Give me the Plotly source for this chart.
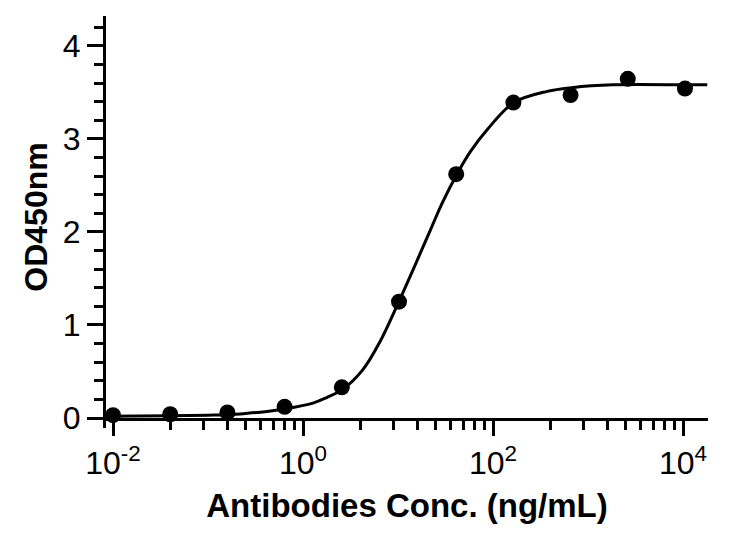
import plotly.graph_objects as go

# Measured data points (concentration in ng/mL, OD450)
conc = [0.01, 0.04, 0.16, 0.64, 2.56, 10.24, 40.96, 163.84, 655.36, 2621.44, 10485.76]
od450 = [0.03, 0.04, 0.06, 0.12, 0.33, 1.25, 2.62, 3.39, 3.47, 3.645, 3.54]

# Fitted curve
curve_x = [0.0084, 0.041, 0.1, 0.163, 0.26, 0.4, 0.64, 1.27, 1.78, 2.63, 4.27, 6.46,
           10.2, 14.5, 21.9, 29.5, 41.7, 57.5, 87.1, 166, 372, 676, 1820, 10965, 18000]
curve_y = [0.02, 0.025, 0.03, 0.035, 0.05, 0.068, 0.097, 0.16, 0.22, 0.31, 0.52, 0.82,
           1.25, 1.60, 2.02, 2.32, 2.62, 2.86, 3.10, 3.39, 3.51, 3.55, 3.58, 3.58, 3.58]

x_major = [0.01, 1, 100, 10000]
x_major_text = ["10<sup>-2</sup>", "10<sup>0</sup>", "10<sup>2</sup>", "10<sup>4</sup>"]
x_minor = [b * m for b in [0.01, 1, 100] for m in [4, 9, 16, 25, 36, 49, 64, 81]]
y_major = [0, 1, 2, 3, 4]

font_name = "Liberation Sans"

fig = go.Figure()
fig.add_trace(go.Scatter(
    x=curve_x, y=curve_y, mode="lines", line=dict(color="black", width=3, shape="spline", smoothing=1.0),
    hoverinfo="skip", showlegend=False, cliponaxis=True))
fig.add_trace(go.Scatter(
    x=conc, y=od450, mode="markers", marker=dict(color="black", size=16),
    showlegend=False, cliponaxis=False))

fig.update_layout(
    width=725, height=536,
    margin=dict(l=98, r=25, t=8, b=126),
    plot_bgcolor="white", paper_bgcolor="white",
    font=dict(family=font_name, color="black", size=32),
    xaxis=dict(
        type="log", range=[-2.074, 4.263], automargin=False,
        showline=True, linewidth=3, linecolor="black",
        showgrid=False, zeroline=False,
        ticks="outside", ticklen=15, tickwidth=3, tickcolor="black",
        tickmode="array", tickvals=x_major, ticktext=x_major_text,
        tickfont=dict(family=font_name, size=32, color="black"),
        minor=dict(tickmode="array", tickvals=x_minor, ticks="outside", ticklen=9,
                   tickwidth=3, tickcolor="black", showgrid=False),
        title=dict(text="<b>Antibodies Conc. (ng/mL)</b>", standoff=14,
                   font=dict(family=font_name, size=33, color="black")),
    ),
    yaxis=dict(
        range=[0, 4.32], automargin=False,
        showline=True, linewidth=3, linecolor="black",
        showgrid=False, zeroline=False,
        ticks="outside", ticklen=16, tickwidth=3, tickcolor="black",
        tickmode="array", tickvals=y_major,
        tickfont=dict(family=font_name, size=32, color="black"),
        minor=dict(dtick=0.2, tick0=0, ticks="outside", ticklen=9,
                   tickwidth=3, tickcolor="black", showgrid=False),
        title=dict(text="<b>OD450nm</b>", standoff=6,
                   font=dict(family=font_name, size=32, color="black")),
    ),
    shapes=[dict(type="line", xref="paper", yref="paper",
                 xsizemode="pixel", ysizemode="pixel", xanchor=0, yanchor=0,
                 x0=-1.5, x1=-1.5, y0=0, y1=-10,
                 line=dict(color="black", width=3))],
)

fig.write_html("out.html")
